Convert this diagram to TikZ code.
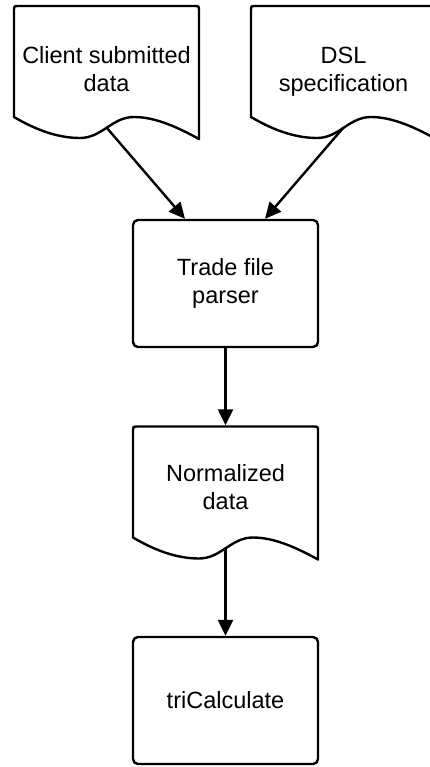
\documentclass[tikz,border=0pt]{standalone}
\usepackage{fontspec}
\setmainfont{Liberation Sans}
\usetikzlibrary{arrows.meta,calc}
\tikzset{
  outline/.style={draw=black, line width=2.4pt, line join=round, fill=white},
  txt/.style={align=center, inner sep=0pt, font=\fontsize{23.5}{28}\selectfont},
  process/.style={outline, txt, rectangle, rounded corners=5pt,
    minimum width=185pt, minimum height=127pt},
  flow/.style={line width=2.4pt, -{Triangle[length=16pt,width=15pt]}},
  % document symbol: rounded top corners and a wavy bottom edge
  document/.pic={
    \draw[outline] (0,111) -- (0,5) .. controls (0,0) .. (5,0) -- (180,0)
      .. controls (185,0) .. (185,5) -- (185,133)
      .. controls (165,122) and (142,111) .. (120,111)
      .. controls (98,111) and (88,132) .. (66,132)
      .. controls (44,132) and (22,124) .. (0,111) -- cycle;
    \coordinate (-top) at (92.5,-1.2);
    \coordinate (-out) at (92.5,121.5);
  }
}
\begin{document}
\begin{tikzpicture}[x=1pt, y=-1pt]
\clip (0,0) rectangle (430,767);
\fill[white] (0,0) rectangle (430,767);

% inputs
\pic (d1) at (14,6) {document};
\pic (d2) at (251,6) {document};
\node[txt] (client) at (106.5,69) {Client submitted\\data};
\node[txt] (dsl) at (343.5,71.5) {DSL\\specification};

% parser
\node[process] (parser) at (225.5,283.5) {Trade file\\parser};

% intermediate document
\pic (d3) at (133,426.5) {document};
\node[txt] (norm) at (225.5,487.5) {Normalized\\data};

% calculation
\node[process] (calc) at (225.5,700.5) {triCalculate};

% connectors
\draw[flow] (d1-out) -- ($(parser.north)+(-40.5,0)$);
\draw[flow] (d2-out) -- ($(parser.north)+(39.5,0)$);
\draw[flow] (parser) -- (d3-top);
\draw[flow] (d3-out) -- (calc);
\end{tikzpicture}
\end{document}
